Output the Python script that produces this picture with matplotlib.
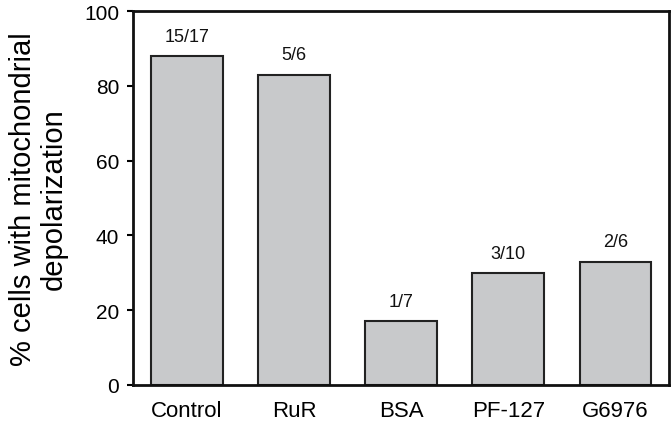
import numpy as np
import matplotlib
matplotlib.use("Agg")
import matplotlib.pyplot as plt

plt.rcParams['font.family'] = ['Liberation Sans', 'DejaVu Sans']

#### data
groups = ['Control', 'RuR', 'BSA', 'PF-127', 'G6976']
percent = [88, 83, 17, 30, 33]
counts = ['15/17', '5/6', '1/7', '3/10', '2/6']

fig = plt.figure(figsize=(6.71, 4.27), dpi=100)
ax = fig.add_axes([133/671, 1-386/427, 536/671, 374/427])

x = np.arange(len(groups))
ax.bar(x, percent, width=0.67, color='#c8c9cb', edgecolor='#222222', linewidth=1.5)
for xi, v, c in zip(x, percent, counts):
    ax.text(xi, v + 3, c, ha='center', va='bottom', fontsize=13, color='#111111')

ax.set_xlim(-0.505, 4.5)
ax.set_ylim(0, 100)
ax.set_yticks(np.arange(0, 101, 20))
ax.set_xticks(x)
ax.set_xticklabels(groups, fontsize=16)
ax.tick_params(axis='x', length=0, pad=11)
ax.tick_params(axis='y', direction='out', length=4, width=1.5, labelsize=15, pad=6)
for s in ax.spines.values():
    s.set_linewidth(2)
    s.set_color('#111111')
ax.set_ylabel('% cells with mitochondrial\ndepolarization', fontsize=21, labelpad=12, linespacing=1.1)

fig.savefig('out.png', dpi=100)
